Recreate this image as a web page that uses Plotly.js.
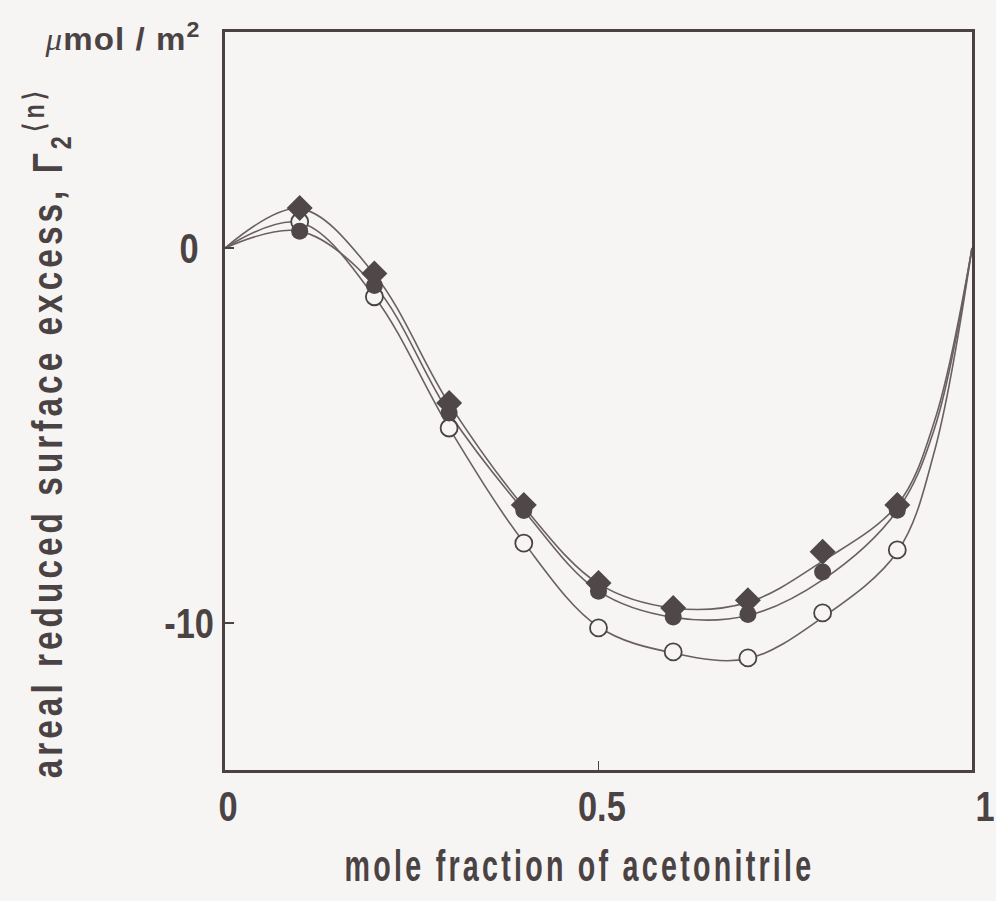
<!DOCTYPE html>
<html>
<head>
<meta charset="utf-8">
<script src="https://cdn.plot.ly/plotly-3.0.1.min.js"></script>
<style>
  html, body { margin: 0; padding: 0; background: #f6f5f4; }
  #chart { width: 996px; height: 901px; }
</style>
</head>
<body>
<div id="chart"></div>
<script>
// ---- data ----
const moleFraction = [0.1, 0.2, 0.3, 0.4, 0.5, 0.6, 0.7, 0.8, 0.9];
const diamondVals  = [1.07, -0.68, -4.13, -6.85, -8.93, -9.60, -9.39, -8.10, -6.85];
const filledVals   = [0.45, -1.00, -4.40, -7.00, -9.15, -9.84, -9.77, -8.64, -6.99];
const openVals     = [0.70, -1.30, -4.80, -7.87, -10.13, -10.77, -10.93, -9.73, -8.05];

// fitted curves
const curveX        = [0, 0.1, 0.2, 0.3, 0.4, 0.5, 0.6, 0.7, 0.8, 0.9, 0.95, 1.0];
const curveDiamond  = [0, 1.05, -0.70, -4.15, -6.90, -8.95, -9.60, -9.45, -8.35, -6.85, -4.60, 0];
const curveFilled   = [0, 0.45, -1.00, -4.40, -7.00, -9.15, -9.85, -9.80, -8.85, -7.00, -4.80, 0];
const curveOpen     = [0, 0.68, -1.30, -4.80, -7.85, -10.10, -10.80, -10.95, -9.85, -8.10, -5.40, 0];

const xTickVals = [0, 0.5, 1];
const xTickText = ['0', '0.5', '1'];
const yTickVals = [0, -10];
const yTickText = ['0', '-10'];

// ---- styling ----
const ink = '#4b4343';
const lineInk = '#6b6060';
const markInk = '#504848';
const bg = '#f6f5f4';
const FONT = "'Liberation Sans', Arial, sans-serif";

const curveStyle = {color: lineInk, width: 1.6, shape: 'spline', smoothing: 1};

const traces = [
  {x: curveX, y: curveOpen, mode: 'lines', line: curveStyle, hoverinfo: 'skip', showlegend: false},
  {x: curveX, y: curveFilled, mode: 'lines', line: curveStyle, hoverinfo: 'skip', showlegend: false},
  {x: curveX, y: curveDiamond, mode: 'lines', line: curveStyle, hoverinfo: 'skip', showlegend: false},
  {x: moleFraction, y: openVals, mode: 'markers', showlegend: false,
   marker: {symbol: 'circle', size: 17, color: bg, line: {width: 1.8, color: ink}}},
  {x: moleFraction, y: diamondVals, mode: 'markers', showlegend: false,
   marker: {symbol: 'diamond', size: 20, color: markInk, line: {width: 0}}},
  {x: moleFraction, y: filledVals, mode: 'markers', showlegend: false,
   marker: {symbol: 'circle', size: 17, color: markInk, line: {width: 0}}}
];

const tickFont = {family: FONT, size: 43, color: ink, weight: 'bold'};

const annotations = [];
xTickVals.forEach((v, i) => {
  annotations.push({x: v, y: 0, xref: 'x', yref: 'paper', yshift: -36,
    xshift: (v === 1 ? 13 : 3),
    text: xTickText[i], showarrow: false, xanchor: 'center', yanchor: 'middle',
    font: tickFont, name: 'tick'});
});
yTickVals.forEach((v, i) => {
  annotations.push({x: -0.048, y: v, xref: 'paper', yref: 'y',
    text: yTickText[i], showarrow: false, xanchor: 'center', yanchor: 'middle',
    font: tickFont, name: 'tick'});
});
annotations.push({
  x: 0.475, y: 0, xref: 'paper', yref: 'paper', yshift: -95,
  text: 'mole fraction of acetonitrile', showarrow: false,
  xanchor: 'center', yanchor: 'middle',
  font: {family: FONT, size: 44, color: ink, weight: 'bold'}, name: 'xtitle'
});
annotations.push({
  x: -0.238, y: 0.457, xref: 'paper', yref: 'paper',
  text: 'areal reduced surface excess, Γ<sub>2</sub><sup>⟨n⟩</sup>',
  textangle: -90, showarrow: false, xanchor: 'center', yanchor: 'middle',
  font: {family: FONT, size: 42, color: ink, weight: 'bold'}, name: 'ytitle'
});
annotations.push({
  x: -0.2383, y: 1, xref: 'paper', yref: 'paper', yshift: -5,
  text: "<span style=\"font-family:'Liberation Serif',serif;font-style:italic;font-weight:normal\">μ</span>mol / m<sup>2</sup>",
  showarrow: false, xanchor: 'left', yanchor: 'middle',
  font: {family: FONT, size: 31, color: ink, weight: 'bold'}, name: 'unit'
});

const layout = {
  width: 996, height: 901,
  margin: {l: 225, r: 24, t: 32, b: 131},
  paper_bgcolor: bg, plot_bgcolor: bg,
  showlegend: false,
  xaxis: {range: [0, 1], tickvals: [0.5], ticks: 'inside', ticklen: 9, tickwidth: 1.5,
          tickcolor: ink, showticklabels: false, showline: true, mirror: true,
          linewidth: 2.6, linecolor: ink, showgrid: false, zeroline: false},
  yaxis: {range: [-13.92, 5.76], tickvals: yTickVals, ticks: 'inside', ticklen: 9, tickwidth: 1.5,
          tickcolor: ink, showticklabels: false, showline: true, mirror: true,
          linewidth: 2.6, linecolor: ink, showgrid: false, zeroline: false},
  annotations: annotations
};

// horizontal (along-text) compression to mimic the condensed typeface
function squeeze(el, factor, anchor) {
  const b = el.getBBox();
  const ax = anchor === 'left' ? b.x : b.x + b.width / 2;
  el.setAttribute('transform',
    'translate(' + ax + ',0) scale(' + factor + ',1) translate(' + (-ax) + ',0)');
}
function fitWidth(el, target, anchor) {
  const b = el.getBBox();
  squeeze(el, target / b.width, anchor);
}

Plotly.newPlot('chart', traces, layout, {staticPlot: true}).then(() => {
  document.querySelectorAll('.annotation-text').forEach(el => {
    const t = el.textContent;
    if (t.indexOf('mole fraction') === 0) {
      el.style.letterSpacing = '5px';
      fitWidth(el, 470, 'center');
    } else if (t.indexOf('areal') === 0) {
      el.style.letterSpacing = '5px';
      fitWidth(el, 690, 'center');
    } else if (t.indexOf('mol') >= 0 && t.indexOf('/') >= 0) {
      el.style.letterSpacing = '1px';
      fitWidth(el, 156, 'left');
    } else {
      squeeze(el, 0.8, 'center');
    }
  });
});
</script>
</body>
</html>
